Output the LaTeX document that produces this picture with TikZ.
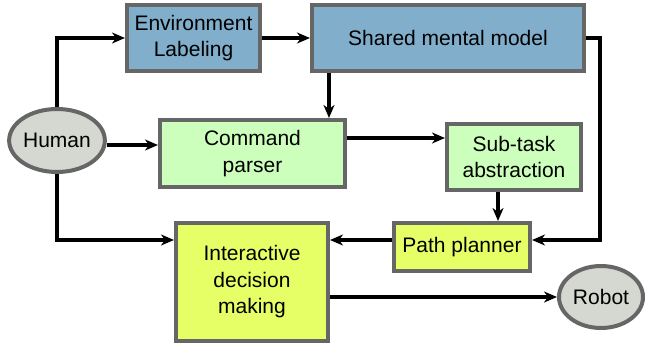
\documentclass[tikz,border=0pt]{standalone}
\usepackage{fontspec}
\setmainfont{Liberation Sans}
\usetikzlibrary{arrows.meta,shapes.geometric}
\definecolor{boxline}{HTML}{666666}
\definecolor{blueFill}{HTML}{80AECB}
\definecolor{greenFill}{HTML}{CCFFBB}
\definecolor{yellowFill}{HTML}{E6FF66}
\definecolor{grayFill}{HTML}{D4D8D0}
\tikzset{
  block/.style={draw=boxline, line width=4pt, rectangle, align=center,
    inner sep=0pt, font=\fontsize{21}{26.5}\selectfont},
  agent/.style={draw=boxline, line width=4pt, ellipse, fill=grayFill,
    inner sep=0pt, font=\fontsize{21}{26.5}\selectfont},
  flow/.style={line width=3.5pt, -{Stealth[length=13pt,width=11pt,inset=4pt]}},
}
\begin{document}
\begin{tikzpicture}[x=1pt,y=-1pt]
\useasboundingbox (0,0) rectangle (645,343);

% blocks
\node[block, fill=blueFill, minimum width=133, minimum height=66] (env) at (193.5,38) {Environment\\Labeling};
\node[block, fill=blueFill, minimum width=272, minimum height=66] (shared) at (448,38) {Shared mental model};
\node[block, fill=greenFill, minimum width=185, minimum height=67] (cmd) at (252.5,153.5) {Command\\parser};
\node[block, fill=greenFill, minimum width=134, minimum height=66] (sub) at (514,157) {Sub-task\\abstraction};
\node[block, fill=yellowFill, minimum width=136, minimum height=48] (path) at (462,247) {Path planner};
\node[block, fill=yellowFill, minimum width=152, minimum height=118] (inter) at (252,282) {Interactive\\decision\\making};

% agents
\node[agent, minimum width=94, minimum height=63] (human) at (57,140.5) {Human};
\node[agent, minimum width=84, minimum height=62] (robot) at (601,297) {Robot};

% connectors
\coordinate (rt) at (600,240);
\draw[flow] (human.north) |- (env.west);
\draw[flow] (env.east) -- (shared.west);
\draw[flow] ([xshift=19pt]shared.south west) -- ([xshift=19pt]shared.south west |- cmd.north);
\draw[flow] ([yshift=-4.5pt]human.east) -- ([yshift=-4.5pt]human.east -| cmd.west);
\draw[flow] ([yshift=15.5pt]cmd.east) -- ([yshift=15.5pt]cmd.east -| sub.west);
\draw[flow] (shared.east) -| (rt) -- (rt -| path.east);
\draw[flow] ([xshift=-16pt]sub.south) -- ([xshift=-16pt]sub.south |- path.north);
\draw[flow] ([yshift=7pt]path.west) -- ([yshift=7pt]path.west -| inter.east);
\draw[flow] (human.south) |- ([yshift=42pt]inter.west);
\draw[flow] ([yshift=-15pt]inter.east) -- ([yshift=-15pt]inter.east -| robot.west);
\end{tikzpicture}
\end{document}
